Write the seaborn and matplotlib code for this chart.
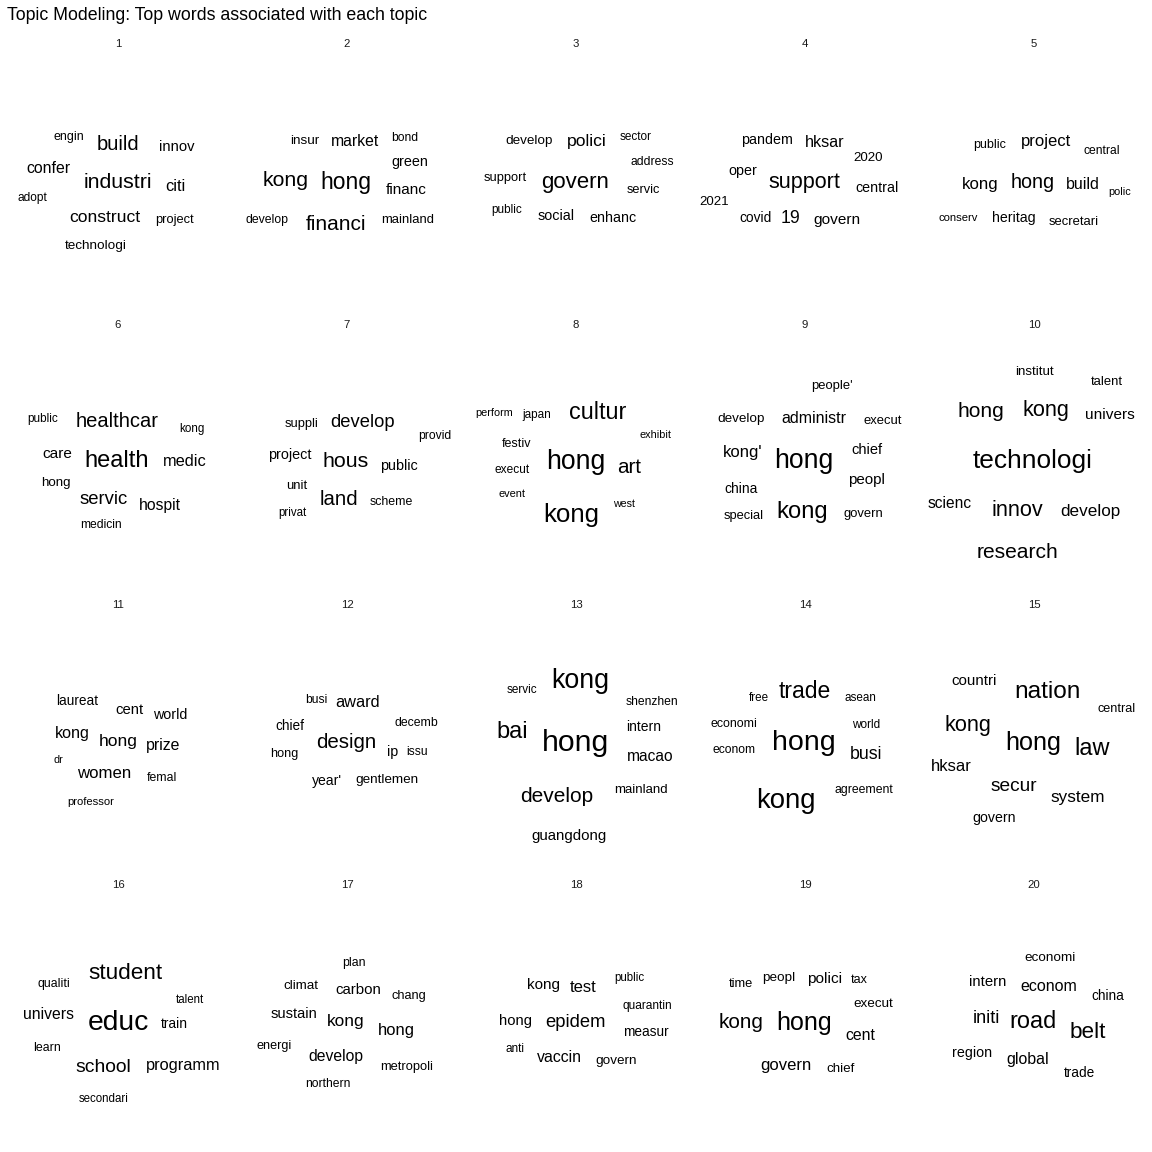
import matplotlib
matplotlib.use("Agg")
import matplotlib.pyplot as plt
import seaborn as sns
import pandas as pd

TITLE = "Topic Modeling: Top words associated with each topic"

# word cloud layout per topic: words, size (frequency scale), x/y layout position
words_01 = ["engin", "build", "innov", "confer", "industri", "citi", "adopt", "construct", "project", "technologi"]
size_01 = [9.0, 14.5, 10.6, 11.4, 15.3, 11.8, 8.6, 12.6, 9.3, 9.7]
x_01 = [-49, 0, 59, -70, 0, 57, -86, -13, 56, -22]
y_01 = [45, 38, 35, 14, 0, -4, -16, -35, -38, -64]

words_02 = ["insur", "market", "bond", "green", "kong", "hong", "financ", "develop", "financi", "mainland"]
size_02 = [9.7, 11.3, 8.7, 10.4, 15.3, 16.5, 11.0, 8.8, 15.0, 9.4]
x_02 = [-42, 8, 58, 63, -61, -1, 59, -80, -11, 61]
y_02 = [41, 41, 44, 20, 2, 0, -8, -38, -42, -38]

words_03 = ["develop", "polici", "sector", "address", "support", "govern", "servic", "public", "social", "enhanc"]
size_03 = [9.7, 12.6, 8.5, 8.7, 9.3, 16.0, 9.2, 8.5, 10.4, 10.3]
x_03 = [-47, 11, 60, 76, -71, -1, 67, -69, -20, 37]
y_03 = [41, 41, 45, 20, 4, 0, -8, -28, -34, -36]

words_04 = ["pandem", "hksar", "2020", "oper", "support", "central", "2021", "covid", "19", "govern"]
size_04 = [10.3, 11.6, 9.6, 10.3, 15.5, 10.3, 9.5, 9.9, 12.7, 11.1]
x_04 = [-38, 20, 63, -62, -1, 72, -91, -49, -14, 32]
y_04 = [42, 40, 24, 11, 0, -6, -20, -36, -36, -38]

words_05 = ["public", "project", "central", "kong", "hong", "build", "polic", "conserv", "heritag", "secretari"]
size_05 = [9.0, 12.0, 8.7, 12.1, 14.2, 11.5, 7.8, 8.1, 10.2, 9.4]
x_05 = [-44, 12, 68, -54, -1, 49, 86, -76, -20, 40]
y_05 = [37, 41, 31, -2, 0, -2, -10, -36, -36, -40]

words_06 = ["public", "healthcar", "kong", "care", "health", "medic", "hong", "servic", "hospit", "medicin"]
size_06 = [8.5, 14.5, 8.4, 11.1, 17.0, 11.8, 9.6, 13.3, 11.3, 8.7]
x_06 = [-75, -1, 74, -61, -1, 67, -62, -14, 42, -17]
y_06 = [43, 41, 33, 8, 1, 1, -21, -37, -43, -63]

words_07 = ["suppli", "develop", "provid", "project", "hous", "public", "unit", "land", "scheme", "privat"]
size_07 = [9.3, 13.2, 8.7, 10.4, 15.4, 10.4, 9.4, 14.7, 8.9, 8.3]
x_07 = [-45, 16, 88, -57, -1, 52, -50, -8, 44, -55]
y_07 = [38, 40, 26, 7, 1, -4, -24, -37, -40, -51]

words_08 = ["perform", "japan", "cultur", "exhibit", "festiv", "execut", "hong", "art", "event", "kong", "west"]
size_08 = [7.8, 8.5, 16.8, 7.8, 9.0, 8.6, 19.1, 14.8, 7.9, 18.6, 7.7]
x_08 = [-82, -39, 22, 80, -59, -64, 0, 53, -64, -5, 48]
y_08 = [49, 47, 50, 27, 18, -8, 0, -5, -32, -53, -42]

words_09 = ["people'", "develop", "administr", "execut", "kong'", "hong", "chief", "peopl", "china", "special", "kong", "govern"]
size_09 = [9.4, 9.7, 11.5, 9.4, 12.0, 19.1, 10.5, 10.9, 10.0, 9.3, 17.1, 9.4]
x_09 = [27, -64, 9, 78, -62, -1, 62, 61, -64, -61, -3, 58]
y_09 = [76, 43, 44, 41, 10, 1, 12, -18, -27, -54, -50, -52]

words_10 = ["institut", "talent", "hong", "kong", "univers", "technologi", "scienc", "innov", "develop", "research"]
size_10 = [9.6, 9.4, 15.0, 15.6, 11.1, 18.9, 11.2, 15.6, 12.3, 15.1]
x_10 = [0, 73, -53, 12, 76, -1, -84, -17, 56, -16]
y_10 = [90, 80, 51, 52, 47, 1, -41, -48, -49, -90]

words_11 = ["laureat", "cent", "world", "kong", "hong", "prize", "dr", "women", "femal", "professor"]
size_11 = [9.8, 10.7, 10.3, 11.6, 12.5, 11.4, 7.8, 12.1, 8.8, 8.1]
x_11 = [-41, 12, 52, -46, 0, 45, -60, -14, 44, -27]
y_11 = [42, 33, 28, 9, 1, -3, -17, -31, -35, -59]

words_12 = ["busi", "award", "chief", "decemb", "design", "hong", "ip", "issu", "year'", "gentlemen"]
size_12 = [8.7, 11.8, 9.8, 8.8, 14.8, 9.1, 10.3, 8.7, 10.1, 9.7]
x_12 = [-31, 11, -57, 69, -1, -63, 46, 70, -20, 40]
y_12 = [43, 40, 17, 20, 0, -11, -9, -9, -38, -37]

words_13 = ["servic", "kong", "shenzhen", "bai", "hong", "intern", "macao", "develop", "mainland", "guangdong"]
size_13 = [8.5, 19.3, 8.7, 17.0, 21.7, 10.0, 11.2, 15.0, 9.5, 10.8]
x_13 = [-54, 4, 76, -64, 0, 68, 74, -19, 65, -7]
y_13 = [53, 62, 41, 11, 0, 16, -14, -54, -47, -93]

words_14 = ["free", "trade", "asean", "economi", "world", "econom", "hong", "busi", "agreement", "kong"]
size_14 = [8.4, 16.5, 8.4, 8.9, 8.5, 8.7, 20.5, 12.8, 8.8, 19.8]
x_14 = [-46, 0, 55, -71, 61, -71, -1, 61, 59, -19]
y_14 = [45, 51, 45, 19, 18, -7, 0, -12, -47, -58]

words_15 = ["countri", "nation", "central", "kong", "hong", "law", "hksar", "secur", "system", "govern"]
size_15 = [10.9, 17.6, 9.1, 15.6, 18.2, 16.9, 11.9, 13.8, 12.3, 10.2]
x_15 = [-60, 14, 83, -66, -1, 58, -83, -20, 44, -40]
y_15 = [62, 51, 34, 17, 0, -6, -24, -44, -55, -75]

words_16 = ["qualiti", "student", "talent", "univers", "educ", "train", "learn", "school", "programm", "secondari"]
size_16 = [8.9, 16.2, 8.3, 11.3, 20.3, 9.9, 8.9, 13.9, 11.8, 8.3]
x_16 = [-64, 7, 72, -70, 0, 56, -71, -15, 65, -14]
y_16 = [39, 49, 23, 8, 0, -1, -25, -45, -43, -76]

words_17 = ["plan", "climat", "carbon", "chang", "sustain", "kong", "hong", "energi", "develop", "metropoli", "northern"]
size_17 = [8.9, 9.6, 10.8, 9.2, 10.5, 12.4, 11.9, 9.1, 11.3, 9.3, 8.7]
x_17 = [7, -46, 11, 62, -53, -1, 49, -73, -11, 60, -19]
y_17 = [60, 37, 33, 27, 9, 1, -8, -23, -34, -44, -61]

words_18 = ["kong", "test", "public", "quarantin", "hong", "epidem", "measur", "anti", "vaccin", "govern"]
size_18 = [11.0, 12.0, 8.3, 8.6, 10.7, 13.2, 9.8, 8.5, 11.4, 9.7]
x_18 = [-32, 7, 53, 71, -60, 0, 70, -61, -17, 40]
y_18 = [38, 35, 45, 17, 2, 0, -9, -26, -35, -38]

words_19 = ["time", "peopl", "polici", "tax", "execut", "kong", "hong", "cent", "govern", "chief"]
size_19 = [9.3, 9.7, 11.1, 9.0, 9.7, 14.9, 18.0, 11.4, 12.0, 9.6]
x_19 = [-64, -26, 20, 54, 68, -64, -1, 55, -19, 36]
y_19 = [39, 45, 44, 43, 19, 0, 0, -13, -43, -46]

words_20 = ["economi", "intern", "econom", "china", "initi", "road", "belt", "region", "global", "trade"]
size_20 = [9.7, 10.7, 11.5, 9.8, 13.0, 16.9, 16.2, 10.3, 11.4, 9.8]
x_20 = [16, -46, 15, 74, -48, -1, 54, -62, -6, 45]
y_20 = [65, 41, 36, 27, 4, 1, -10, -30, -37, -50]

topics = list(range(1, 21))
all_words = [words_01, words_02, words_03, words_04, words_05, words_06, words_07,
             words_08, words_09, words_10, words_11, words_12, words_13, words_14,
             words_15, words_16, words_17, words_18, words_19, words_20]
all_sizes = [size_01, size_02, size_03, size_04, size_05, size_06, size_07,
             size_08, size_09, size_10, size_11, size_12, size_13, size_14,
             size_15, size_16, size_17, size_18, size_19, size_20]
all_x = [x_01, x_02, x_03, x_04, x_05, x_06, x_07, x_08, x_09, x_10,
         x_11, x_12, x_13, x_14, x_15, x_16, x_17, x_18, x_19, x_20]
all_y = [y_01, y_02, y_03, y_04, y_05, y_06, y_07, y_08, y_09, y_10,
         y_11, y_12, y_13, y_14, y_15, y_16, y_17, y_18, y_19, y_20]

rows = []
for t, ws, ss, xs, ys in zip(topics, all_words, all_sizes, all_x, all_y):
    for w, s, x, y in zip(ws, ss, xs, ys):
        rows.append({"topic": t, "word": w, "size": s, "x": x, "y": y})
df = pd.DataFrame(rows)

sns.set_theme(style="white")
plt.rcParams["font.family"] = ["Liberation Sans", "DejaVu Sans"]


def draw_words(data, **kws):
    ax = plt.gca()
    for r in data.itertuples():
        ax.text(r.x, r.y, r.word, fontsize=r.size, ha="center", va="center",
                color="black")


g = sns.FacetGrid(df, col="topic", col_wrap=5, col_order=topics,
                  sharex=True, sharey=True, height=2.3, aspect=1.0)
g.map_dataframe(draw_words)
g.set(xlim=(-112, 112), ylim=(-127, 130))
g.set_titles("{col_name}", size=8.2, color="#1A1A1A", pad=3.3)
for ax in g.axes.flat:
    ax.set_axis_off()

fig = g.figure
fig.set_size_inches(11.52, 11.52)
W = H = 1152.0
fig.subplots_adjust(left=6 / W, right=1146 / W, top=1 - 52 / H,
                    bottom=1 - 1150 / H, wspace=5 / 224, hspace=23.3 / 257)
fig.text(7 / W, 1 - 15.5 / H, TITLE, ha="left", va="center", fontsize=12.8,
         color="black")
fig.savefig("out.png", dpi=100, facecolor="white")
